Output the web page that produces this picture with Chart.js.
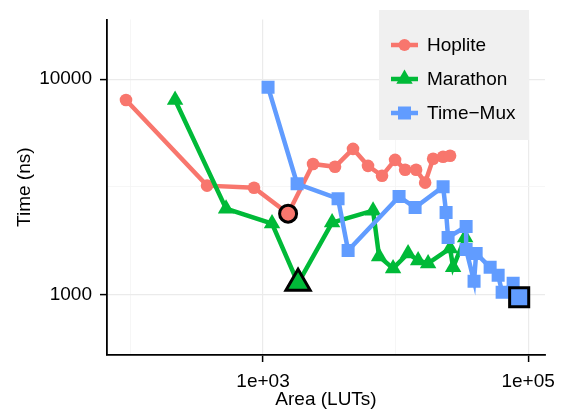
<!DOCTYPE html>
<html>
<head>
<meta charset="utf-8">
<script src="https://cdn.jsdelivr.net/npm/chart.js@4.4.1/dist/chart.umd.min.js"></script>
<style>
  html, body { margin: 0; padding: 0; background: #fff; }
  #wrap { width: 569px; height: 409px; }
</style>
</head>
<body>
<div id="wrap"><canvas id="grafico" width="569" height="409"></canvas></div>
<script>
// valores (area em LUTs, tempo em ns)
const hopliteArea = [92.5, 378, 855, 1545, 2383, 3491, 4772, 6194, 7900, 9910, 11800, 14280, 16710, 19190, 22820, 25760];
const hopliteTempo = [8000, 3200, 3127, 2371, 4037, 3915, 4745, 3955, 3555, 4218, 3795, 3795, 3304, 4264, 4359, 4404];
const hopliteDestaque = 3;

const marathonArea = [217, 526, 1169, 1837, 3319, 6761, 7505, 9570, 12420, 14790, 17590, 25760, 27160, 33480];
const marathonTempo = [8000, 2500, 2133, 1124, 2154, 2448, 1500, 1319, 1549, 1436, 1392, 1633, 1334, 1837];
const marathonDestaque = 3;

const timeMuxArea = [1091, 1807, 3681, 4383, 10620, 14030, 22820, 24040, 24890, 34040, 34040, 39080, 40520, 51670, 59380, 63640, 77050, 85560];
const timeMuxTempo = [9180, 3265, 2782, 1599, 2845, 2530, 3162, 2399, 1837, 2065, 1616, 1149, 1549, 1334, 1225, 1021, 1124, 968];
const timeMuxDestaque = 17;

const nomes = ['Hoplite', 'Marathon', 'Time\u2212Mux'];
const cores = ['#F8766D', '#00BA38', '#619CFF'];

const ticksX = [100, 1000, 10000, 100000];
const ticksXPrincipais = [1000, 100000];
const ticksY = [1000, 3162.28, 10000];
const ticksYPrincipais = [1000, 10000];

const fonte = '"Liberation Sans", Arial, sans-serif';

function montaPontos(area, tempo) {
    return area.map((a, i) => ({ x: a, y: tempo[i] }));
}

function porPonto(n, destaque, normal, especial) {
    let arr = [];
    for (let i = 0; i < n; i++) arr.push(i === destaque ? especial : normal);
    return arr;
}

function montaSerie(idx, area, tempo, destaque, estilo, raio, raioDestaque, ordem) {
    const n = area.length;
    return {
        label: nomes[idx],
        data: montaPontos(area, tempo),
        borderColor: cores[idx],
        backgroundColor: cores[idx],
        borderWidth: 4.5,
        tension: 0,
        order: ordem,
        pointStyle: estilo,
        pointRadius: porPonto(n, destaque, raio, raioDestaque),
        pointBackgroundColor: cores[idx],
        pointBorderColor: porPonto(n, destaque, cores[idx], '#000'),
        pointBorderWidth: porPonto(n, destaque, 0, 3),
        pointHoverRadius: porPonto(n, destaque, raio, raioDestaque)
    };
}

const legendaPlugin = {
    id: 'legendaCaixa',
    afterDraw(chart) {
        const ctx = chart.ctx;
        ctx.save();
        ctx.fillStyle = '#F0F0F0';
        ctx.fillRect(379, 10, 150, 130);
        const linhas = [45, 79, 113];
        const estilos = ['circle', 'triangle', 'rect'];
        linhas.forEach((y, i) => {
            ctx.strokeStyle = cores[i];
            ctx.lineWidth = 4.5;
            ctx.beginPath();
            ctx.moveTo(391, y);
            ctx.lineTo(418, y);
            ctx.stroke();
            ctx.fillStyle = cores[i];
            ctx.beginPath();
            const cx = 404.5;
            if (estilos[i] === 'circle') {
                ctx.arc(cx, y, 6, 0, Math.PI * 2);
            } else if (estilos[i] === 'triangle') {
                ctx.moveTo(cx, y - 9.5);
                ctx.lineTo(cx + 8.2, y + 4.8);
                ctx.lineTo(cx - 8.2, y + 4.8);
                ctx.closePath();
            } else {
                ctx.rect(cx - 6.5, y - 6.5, 13, 13);
            }
            ctx.fill();
            ctx.fillStyle = '#000';
            ctx.font = '19px ' + fonte;
            ctx.textAlign = 'left';
            ctx.textBaseline = 'middle';
            ctx.fillText(nomes[i], 427, y + 1);
        });
        ctx.restore();
    }
};

const graficoCanvas = document.getElementById('grafico');

const grafico = new Chart(graficoCanvas, {
    type: 'line',
    data: {
        datasets: [
            montaSerie(0, hopliteArea, hopliteTempo, hopliteDestaque, 'circle', 6.3, 8.5, 2),
            montaSerie(1, marathonArea, marathonTempo, marathonDestaque, 'triangle', 9.5, 14, 1),
            montaSerie(2, timeMuxArea, timeMuxTempo, timeMuxDestaque, 'rect', 9.2, 13.5, 0)
        ]
    },
    options: {
        responsive: false,
        animation: false,
        devicePixelRatio: 1,
        layout: { padding: { left: 0, right: 24, top: 18, bottom: 0 } },
        plugins: {
            legend: { display: false },
            tooltip: { enabled: false }
        },
        scales: {
            x: {
                type: 'logarithmic',
                min: 66.5,
                max: 134000,
                afterFit: (scale) => { scale.height = 54; },
                afterBuildTicks: (scale) => { scale.ticks = ticksX.map(v => ({ value: v })); },
                ticks: {
                    autoSkip: false,
                    maxRotation: 0,
                    padding: 8,
                    color: '#000',
                    font: { family: fonte, size: 19 },
                    callback: (v) => ticksXPrincipais.includes(v) ? v.toExponential(0).replace('e+', 'e+0') : ''
                },
                grid: {
                    color: (c) => ticksXPrincipais.includes(c.tick && c.tick.value) ? '#EBEBEB' : '#F4F4F4',
                    lineWidth: (c) => ticksXPrincipais.includes(c.tick && c.tick.value) ? 1.2 : 0.8,
                    tickColor: (c) => ticksXPrincipais.includes(c.tick && c.tick.value) ? '#000' : 'rgba(0,0,0,0)',
                    tickLength: 7,
                    tickWidth: 1.5
                },
                border: { color: '#000', width: 1.8 },
                title: {
                    display: true,
                    text: 'Area (LUTs)',
                    color: '#000',
                    font: { family: fonte, size: 19, lineHeight: 1 },
                    padding: { top: 0, bottom: 0 }
                }
            },
            y: {
                type: 'logarithmic',
                min: 522,
                max: 18970,
                afterFit: (scale) => { scale.width = 107; },
                afterBuildTicks: (scale) => { scale.ticks = ticksY.map(v => ({ value: v })); },
                ticks: {
                    autoSkip: false,
                    padding: 8,
                    color: '#000',
                    font: { family: fonte, size: 19 },
                    callback: (v) => ticksYPrincipais.includes(v) ? String(v) : ''
                },
                grid: {
                    color: (c) => ticksYPrincipais.includes(c.tick && c.tick.value) ? '#EBEBEB' : '#F4F4F4',
                    lineWidth: (c) => ticksYPrincipais.includes(c.tick && c.tick.value) ? 1.2 : 0.8,
                    tickColor: (c) => ticksYPrincipais.includes(c.tick && c.tick.value) ? '#000' : 'rgba(0,0,0,0)',
                    tickLength: 7,
                    tickWidth: 1.5
                },
                border: { color: '#000', width: 1.8 },
                title: {
                    display: true,
                    text: 'Time (ns)',
                    color: '#000',
                    font: { family: fonte, size: 19, lineHeight: 1 },
                    padding: { top: 15, bottom: 0 }
                }
            }
        }
    },
    plugins: [legendaPlugin]
});
</script>
</body>
</html>
